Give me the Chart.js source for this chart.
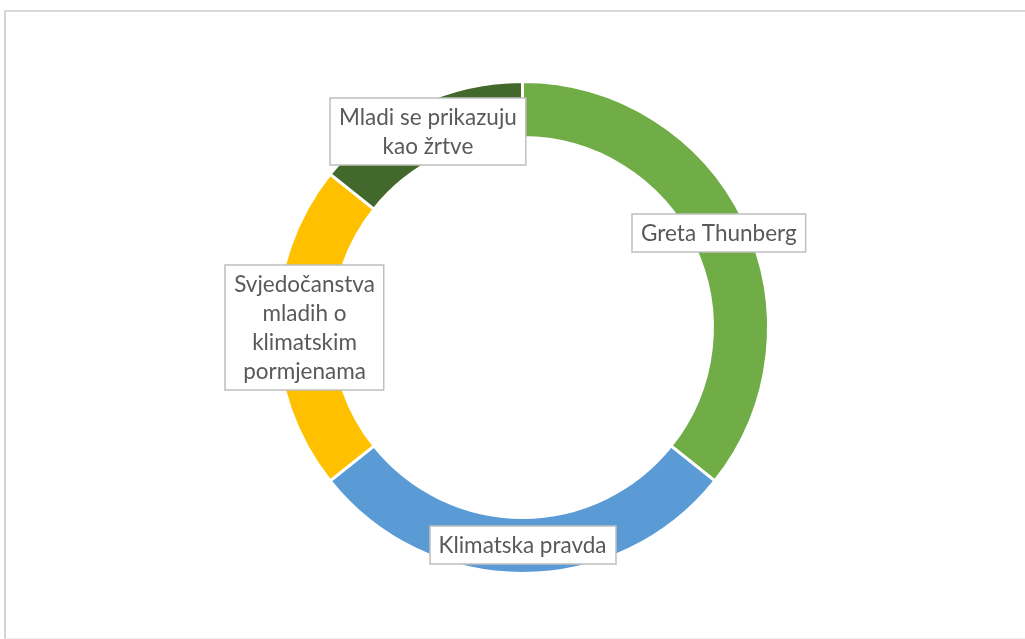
<!DOCTYPE html>
<html lang="hr">
<head>
<meta charset="UTF-8">
<title>Doughnut</title>
<script src="https://cdn.jsdelivr.net/npm/chart.js"></script>
<style>
  html, body { margin: 0; padding: 0; background: #fff; }
  #frame {
    position: absolute; left: 4px; top: 10px; width: 1040px; height: 626px;
    border-top: 2px solid #d9d9d9; border-left: 2px solid #d4d4d4; border-bottom: 1px solid #f0f0f0;
  }
  #wrap { position: absolute; left: 0; top: 0; width: 1025px; height: 639px; }
</style>
</head>
<body>
<div id="frame"></div>
<div id="wrap"><canvas id="chart"></canvas></div>
<script>
// categories (wrapped the way the labels appear), values, colours
const categories = [
  ['Greta Thunberg'],
  ['Klimatska pravda'],
  ['Svjedočanstva', 'mladih o', 'klimatskim', 'pormjenama'],
  ['Mladi se prikazuju', 'kao žrtve']
];
const values = [25, 20, 15, 10];
const colors = ['#70ad47', '#5b9bd5', '#ffc000', '#43682b'];

const labelBoxes = {
  id: 'labelBoxes',
  afterDatasetsDraw(chart) {
    const ctx = chart.ctx;
    const meta = chart.getDatasetMeta(0);
    const lineH = 29;
    ctx.save();
    ctx.font = '22.5px Lato';
    ctx.textAlign = 'center';
    ctx.textBaseline = 'middle';
    meta.data.forEach((arc, i) => {
      const lines = chart.data.labels[i];
      const pos = arc.tooltipPosition();
      const w = Math.max(...lines.map(l => ctx.measureText(l).width)) + 18;
      const h = lines.length * lineH + 9;
      const x = Math.round(pos.x - w / 2), y = Math.round(pos.y - h / 2);
      ctx.fillStyle = '#ffffff';
      ctx.fillRect(x, y, w, h);
      ctx.strokeStyle = '#bfbfbf';
      ctx.lineWidth = 1.5;
      ctx.strokeRect(x, y, w, h);
      ctx.fillStyle = '#595959';
      lines.forEach((l, k) => {
        ctx.fillText(l, pos.x, y + 4.5 + lineH * (k + 0.5) + 1);
      });
    });
    ctx.restore();
  }
};

new Chart(document.getElementById('chart'), {
  type: 'doughnut',
  data: {
    labels: categories,
    datasets: [{
      data: values,
      backgroundColor: colors,
      borderColor: '#ffffff',
      borderWidth: 3
    }]
  },
  options: {
    responsive: true,
    maintainAspectRatio: false,
    animation: false,
    radius: 246,
    cutout: '77.2%',
    layout: { padding: { left: 20, top: 16 } },
    plugins: {
      legend: { display: false },
      tooltip: { enabled: false }
    }
  },
  plugins: [labelBoxes]
});
</script>
</body>
</html>
